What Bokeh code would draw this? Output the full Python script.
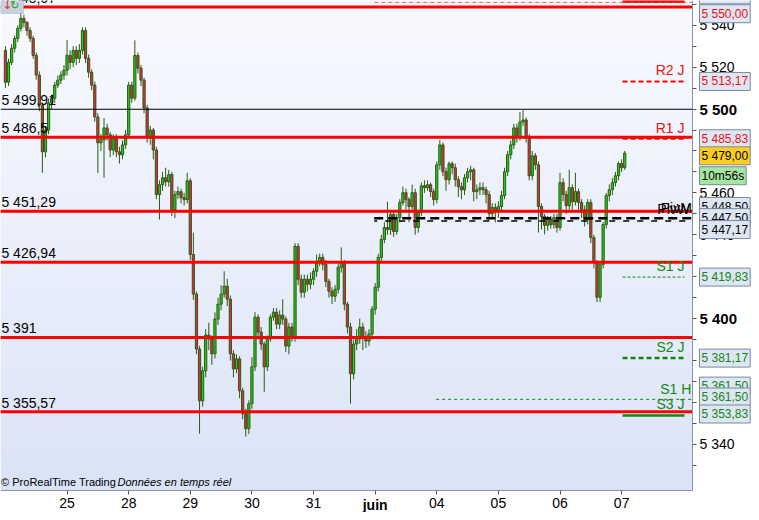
import numpy as np
from bokeh.plotting import figure
from bokeh.models import Range1d, FixedTicker, Label, BoxAnnotation, ColumnDataSource, LinearAxis
from bokeh.core.properties import value
from bokeh.embed import file_html
from bokeh.resources import INLINE

# --- hourly candles, one bar per index (open = previous close) ---
first_open = 5528.0
closes = [
    5512.8, 5522.3, 5529.0, 5533.7, 5538.5, 5543.2, 5541.3, 5537.5, 5533.7, 5525.6,
    5516.2, 5501.9, 5479.6, 5490.0, 5502.9, 5505.2, 5511.4, 5513.8, 5516.2, 5518.5,
    5525.6, 5522.3, 5528.0, 5524.2, 5528.0, 5537.5, 5524.2, 5517.6, 5511.4, 5496.2,
    5483.9, 5485.3, 5491.0, 5487.7, 5480.5, 5486.2, 5479.6, 5478.2, 5482.9, 5487.7,
    5511.4, 5505.2, 5525.6, 5519.5, 5513.8, 5500.5, 5486.2, 5490.0, 5480.5, 5459.2,
    5463.9, 5467.2, 5465.3, 5468.7, 5452.0, 5459.2, 5460.6, 5457.7, 5456.8, 5465.8,
    5430.6, 5411.7, 5385.5, 5360.8, 5375.1, 5392.2, 5390.3, 5383.2, 5399.8, 5406.9,
    5411.7, 5415.5, 5409.3, 5383.2, 5376.0, 5380.8, 5365.6, 5354.6, 5347.5, 5359.4,
    5377.0, 5400.7, 5393.6, 5387.9, 5377.0, 5390.3, 5400.7, 5403.1, 5397.4, 5401.7,
    5399.8, 5386.9, 5396.0, 5391.2, 5434.5, 5418.8, 5412.6, 5418.8, 5416.4, 5418.8,
    5422.6, 5427.3, 5429.2, 5425.9, 5417.8, 5413.1, 5410.7, 5414.0, 5424.5, 5426.4,
    5406.9, 5396.0, 5373.7, 5387.9, 5390.3, 5396.0, 5391.2, 5389.3, 5392.7, 5404.5,
    5415.0, 5429.2, 5437.8, 5443.5, 5442.5, 5449.7, 5441.6, 5448.2, 5455.4, 5460.1,
    5456.8, 5453.5, 5460.1, 5443.5, 5450.6, 5463.4, 5462.5, 5463.9, 5460.6, 5456.8,
    5473.4, 5482.9, 5470.1, 5466.3, 5473.9, 5472.0, 5466.3, 5463.0, 5461.5, 5467.2,
    5470.1, 5471.0, 5460.6, 5461.5, 5462.5, 5461.5, 5459.2, 5450.1, 5453.0, 5451.1,
    5453.5, 5458.7, 5470.1, 5478.2, 5482.9, 5491.0, 5486.7, 5493.8, 5494.8, 5486.2,
    5468.2, 5477.7, 5473.4, 5453.5, 5448.7, 5444.5, 5447.3, 5444.9, 5448.2, 5443.5,
    5464.9, 5459.2, 5453.9, 5462.5, 5455.8, 5460.6, 5455.4, 5452.0, 5447.3, 5455.4,
    5438.7, 5426.9, 5410.2, 5425.9, 5444.9, 5458.7, 5461.5, 5464.9, 5468.2, 5474.0,
    5472.0, 5479.0,
]
highs = [
    5530, 5524, 5531, 5535, 5540, 5546, 5545, 5542, 5539, 5535,
    5527, 5518, 5503, 5492, 5505, 5507, 5513, 5516, 5518, 5521,
    5533, 5528, 5530, 5530, 5531, 5539, 5539, 5526, 5519, 5513,
    5498, 5488, 5495.7, 5493, 5489, 5488, 5488, 5482, 5485, 5490,
    5513, 5513, 5532.8, 5527, 5521, 5515, 5502, 5492, 5491, 5482,
    5466, 5470, 5472, 5471, 5470, 5461, 5463, 5462, 5460, 5469.6,
    5467, 5441, 5413, 5387, 5377, 5395, 5398, 5392, 5403, 5410,
    5416, 5422.6, 5419, 5411, 5385, 5383, 5382, 5367, 5357, 5361,
    5381.6, 5403.1, 5402, 5396, 5389, 5392, 5402, 5405, 5405, 5404,
    5409.3, 5401, 5398, 5398, 5436, 5436, 5421, 5421, 5421, 5422,
    5424, 5430.6, 5431, 5431, 5428, 5419, 5415, 5416, 5426, 5434,
    5428, 5408, 5398, 5390, 5395, 5400, 5398, 5394, 5395, 5406,
    5417, 5431, 5440, 5446, 5455.8, 5452, 5451, 5450, 5457, 5463,
    5462, 5458, 5463.9, 5462, 5452, 5465, 5466, 5466, 5465, 5462,
    5475, 5485.3, 5484, 5472, 5475, 5475, 5474, 5468, 5465, 5469,
    5472, 5473, 5472, 5464, 5465, 5465, 5463, 5461, 5455, 5455,
    5456, 5461, 5472, 5480, 5485, 5493, 5493, 5498.6, 5499.5, 5496,
    5488, 5480, 5479, 5475, 5455, 5450, 5449, 5449, 5450, 5450,
    5469.6, 5467, 5461, 5471, 5464, 5469.6, 5462, 5457, 5454, 5457,
    5457, 5440, 5428, 5427, 5446, 5460, 5464, 5467, 5470, 5475,
    5476, 5480,
]
lows = [
    5510, 5511, 5521, 5527, 5532, 5537, 5539, 5535, 5532, 5524,
    5514, 5499, 5469.6, 5477, 5488, 5500, 5503, 5510, 5512, 5514,
    5516, 5519, 5520, 5521, 5522, 5526, 5522, 5515, 5509, 5494,
    5469.6, 5480, 5467.2, 5485, 5477, 5478, 5477, 5474, 5476, 5481,
    5486, 5503, 5504, 5517, 5511, 5498, 5484, 5483, 5476, 5457,
    5447.3, 5461, 5463, 5463, 5449, 5448, 5457, 5455, 5454, 5455,
    5428, 5409, 5383, 5345.1, 5358, 5372, 5385, 5378, 5381, 5397,
    5404, 5410, 5406, 5380, 5372, 5374, 5362, 5352, 5343.7, 5345,
    5357, 5375, 5390, 5385, 5365.1, 5375, 5389, 5399, 5395, 5395,
    5397, 5384, 5383, 5389, 5389, 5416, 5410, 5410, 5413, 5414,
    5416, 5420, 5425, 5423, 5415, 5410, 5407, 5408, 5412, 5422,
    5404, 5393, 5359.4, 5371, 5385, 5388, 5385, 5386, 5387, 5390,
    5402, 5413, 5427, 5436, 5440, 5440, 5439, 5440, 5446, 5454,
    5452, 5446, 5452, 5440, 5441, 5449, 5460, 5461, 5458, 5454,
    5455, 5471, 5468, 5461, 5464, 5469, 5463, 5458, 5457, 5459,
    5465, 5466, 5456, 5457, 5459, 5459, 5455, 5447, 5448, 5446,
    5448, 5451, 5457, 5468, 5476, 5481, 5484, 5485, 5492, 5484,
    5466, 5466, 5471, 5441.1, 5442.5, 5440.2, 5442, 5443, 5443, 5441,
    5442, 5456, 5450, 5452, 5452, 5454, 5452, 5448, 5444, 5445,
    5436, 5424, 5407.9, 5408, 5424, 5443, 5456, 5459, 5463, 5466,
    5470, 5471,
]

# --- axis ticks ---
day_ticks = [20, 40, 60, 80, 100, 120, 140, 160, 180, 200]
day_labels = ["25", "28", "29", "30", "31", "juin", "04", "05", "06", "07"]
price_ticks = [5340, 5360, 5380, 5400, 5420, 5440, 5460, 5480, 5500, 5520, 5540]
price_labels = ["5 340", "5 360", "5 380", "5 400", "5 420", "5 440", "5 460", "5 480", "5 500", "5 520", "5 540"]
price_minor = [5330, 5350, 5370, 5390, 5410, 5430, 5450, 5470, 5490, 5510, 5530, 5550]

# --- horizontal levels ---
red_levels = [5548.67, 5486.5, 5451.29, 5426.94, 5391.0, 5355.57]
red_texts = ["5 548,67", "5 486,5", "5 451,29", "5 426,94", "5 391", "5 355,57"]
black_level = 5499.91
black_text = "5 499,91"

pivot_names = ["R2 J", "R1 J", "S1 J", "S2 J", "S3 J"]
pivot_values = [5513.17, 5485.83, 5419.83, 5381.17, 5353.83]
pivm_value = 5447.5
s1h_value = 5361.5

# right-hand value tags: text, level, colour, background
tag_texts = ["5 551,50", "5 550,00", "5 513,17", "5 485,83", "5 479,00", "10m56s",
             "5 448,50", "5 447,50", "5 447,17", "5 419,83", "5 381,17",
             "5 361,50", "5 361,50", "5 353,83"]
tag_levels = [5554.5, 5545.5, 5513.17, 5485.83, 5477.7, 5468.2,
              5453.5, 5448.2, 5442.5, 5419.83, 5381.17,
              5367.8, 5362.6, 5354.5]
tag_colors = ["#ee1111"] * 4 + ["black"] * 5 + ["#118811"] * 5
tag_fills = ["#dfe6f3"] * 4 + ["#ffcc22", "#a6e6a0"] + ["#dfe6f3"] * 8

FONT = "Liberation Sans"
WICK = "#2d5a12"
UP = "#1fcc1f"
DOWN = "#e8254d"
W, H = 751, 512           # canvas
CW, CH = 692, 490         # chart area inside the canvas
X0, X1 = -1.6, 223.0
Y0, Y1 = 5318.0, 5551.8
px_bar = CW / (X1 - X0)
px_pt = CH / (Y1 - Y0)
XR = X1 + (W - CW) / px_bar   # frame covers the axis strips too
YB = Y0 - (H - CH) / px_pt

p = figure(width=W, height=H, x_range=Range1d(X0, XR), y_range=Range1d(YB, Y1),
           x_axis_location=None, y_axis_location=None,
           output_backend="svg", toolbar_location=None,
           min_border=0)
p.grid.visible = False
p.border_fill_color = "white"
p.background_fill_color = "white"
p.outline_line_color = None

# background gradient of the chart area
n_rows = 64
grad = np.zeros((n_rows, 1), dtype=np.uint32)
view = grad.view(dtype=np.uint8).reshape((n_rows, 1, 4))
for i in range(n_rows):
    t = i / (n_rows - 1)
    view[i, 0, 0] = int(219 + (249 - 219) * t)
    view[i, 0, 1] = int(228 + (250 - 228) * t)
    view[i, 0, 2] = int(247 + (255 - 247) * t)
    view[i, 0, 3] = 255
p.image_rgba(image=[grad], x=X0, y=Y0, dw=X1 - X0, dh=Y1 - Y0)

# candles
opens = [first_open] + closes[:-1]
o = np.array(opens)
c = np.array(closes)
src = ColumnDataSource(dict(
    x=np.arange(len(closes)), high=highs, low=lows,
    top=np.maximum(o, c), bottom=np.minimum(o, c),
    color=[UP if cc >= oo else DOWN for oo, cc in zip(opens, closes)],
))
p.segment(x0="x", y0="low", x1="x", y1="high", line_color=WICK, line_width=1, source=src)
p.vbar(x="x", width=0.72, top="top", bottom="bottom", fill_color="color",
       line_color=WICK, line_width=1, source=src)

# support / resistance lines across the chart
n_lv = len(red_levels)
p.segment(x0=[X0] * n_lv, y0=red_levels, x1=[X1] * n_lv, y1=red_levels,
          line_color="#ff0000", line_width=3)
p.segment(x0=[X0], y0=[black_level], x1=[X1], y1=[black_level], line_color="black", line_width=1)

left_src = ColumnDataSource(dict(x=[X0 + 0.3] * (n_lv + 1),
                                 y=[v + 0.6 for v in red_levels] + [black_level + 0.6],
                                 t=red_texts + [black_text]))
p.text(x="x", y="y", text="t", source=left_src, text_font=value(FONT), text_font_size="14px",
       text_color="black", text_baseline="bottom", text_align="left")

# weekly pivot (black dashed, doubled)
p.segment(x0=[119.7], y0=[pivm_value + 0.4], x1=[X1], y1=[pivm_value + 0.4],
          line_color="black", line_width=2.5, line_dash="9 5")
p.segment(x0=[119.7], y0=[pivm_value - 0.9], x1=[X1], y1=[pivm_value - 0.9],
          line_color="black", line_width=1.5, line_dash="6 8", line_dash_offset=3)

# top weekly resistance
p.segment(x0=[119.7], y0=[5550.9], x1=[X1], y1=[5550.9], line_color="#ff5555",
          line_width=1, line_dash="4 3")
p.segment(x0=[200.3], y0=[5551.4], x1=[220.4], y1=[5551.4], line_color="#ff0000", line_width=3)

# daily pivots on the right
piv_styles = [("#ff0000", 2, "5 3"), ("#ff0000", 2, "5 3"), ("#118811", 1, "3 2"),
              ("#118811", 2.5, "5 3"), ("#118811", 2.5, "solid")]
for lvl, (col, lw, dash) in zip(pivot_values, piv_styles):
    p.segment(x0=[200.3], y0=[lvl], x1=[220.4], y1=[lvl], line_color=col, line_width=lw, line_dash=dash)
p.segment(x0=[139.8], y0=[s1h_value], x1=[X1], y1=[s1h_value], line_color="#118811",
          line_width=1, line_dash="3 3")

piv_src = ColumnDataSource(dict(x=[220.4] * 5, y=[v + 1.5 for v in pivot_values], t=pivot_names,
                                col=["#ee1111", "#ee1111", "#118811", "#118811", "#118811"]))
p.text(x="x", y="y", text="t", text_color="col", source=piv_src, text_font=value(FONT),
       text_font_size="14px", text_align="right", text_baseline="bottom")
p.text(x=[X1 - 0.4], y=[s1h_value + 1.2], text=["S1 H"], text_color="#118811", text_font=value(FONT),
       text_font_size="14px", text_align="right", text_baseline="bottom")
p.text(x=[X1 - 0.8], y=[pivm_value + 1.0], text=["PivW"], text_color="black", text_font=value(FONT),
       text_font_size="14px", text_align="right", text_baseline="bottom")
p.text(x=[X1 - 0.2], y=[pivm_value + 1.4], text=["PivM"], text_color="black", text_font=value(FONT),
       text_font_size="14px", text_align="right", text_baseline="bottom")

# axes pinned to the edges of the chart area
yax = LinearAxis(fixed_location=X1, bounds=(Y0, Y1))
yax.ticker = FixedTicker(ticks=price_ticks, minor_ticks=price_minor)
yax.major_label_overrides = {t: ("" if t in (5400, 5500) else lab)
                             for t, lab in zip(price_ticks, price_labels)}
yax.major_label_text_font = FONT
yax.major_label_text_font_size = "14px"
yax.major_label_text_color = "black"
yax.axis_line_color = "#8796a6"
yax.major_tick_line_color = "#555555"
yax.minor_tick_line_color = "#555555"
yax.major_tick_out = 4
yax.major_tick_in = 0
yax.minor_tick_out = 4
yax.minor_tick_in = 0
yax.major_label_standoff = 3
p.add_layout(yax, "right")

xax = LinearAxis(fixed_location=Y0, bounds=(X0, X1))
xax.ticker = FixedTicker(ticks=day_ticks, minor_ticks=[])
xax.major_label_overrides = {t: ("" if lab == "juin" else lab) for t, lab in zip(day_ticks, day_labels)}
xax.major_label_text_font = FONT
xax.major_label_text_font_size = "14px"
xax.major_label_text_color = "black"
xax.axis_line_color = "#8796a6"
xax.major_tick_line_color = "#555555"
xax.major_tick_out = 4
xax.major_tick_in = 0
xax.major_label_standoff = 3
p.add_layout(xax, "below")

p.add_layout(Label(x=day_ticks[day_labels.index("juin")], y=Y0 - 6 / px_pt, text="juin",
                   text_font=FONT, text_font_size="14px", text_font_style="bold",
                   text_align="center", text_baseline="top", text_color="black"))
tag_x = X1 + 7 / px_bar
for t in (5400, 5500):
    p.add_layout(Label(x=tag_x, y=t, text=price_labels[price_ticks.index(t)],
                       text_font=FONT, text_font_size="15px", text_font_style="bold",
                       text_baseline="middle", text_align="left", text_color="black"))

# right-hand value tags
for txt, lvl, col, bg in zip(tag_texts, tag_levels, tag_colors, tag_fills):
    p.add_layout(Label(x=tag_x, y=lvl, text=txt, text_font=FONT,
                       text_font_size="12px", text_color=col, text_baseline="middle",
                       text_align="left", background_fill_color=bg,
                       border_line_color="#7a8a9c", padding=2))

# little toolbar icon at the top left
p.add_layout(BoxAnnotation(left=X0, right=5.9, bottom=5545.6, top=Y1, fill_color="#c6d0de",
                           fill_alpha=1, line_color="#8a98a8"))
p.add_layout(Label(x=X0 + 0.6, y=5546.2, text="↓", text_color="#e03030", text_font_size="12px",
                   text_baseline="bottom", text_font="DejaVu Sans"))
p.add_layout(Label(x=X0 + 3.2, y=5546.2, text="↻", text_color="#20a020", text_font_size="11px",
                   text_baseline="bottom", text_font="DejaVu Sans"))

# copyright line
p.add_layout(Label(x=X0 + 0.2, y=Y0 + 1.0, text="© ProRealTime Trading", text_font=FONT,
                   text_font_size="11px", text_color="black", text_baseline="bottom"))
p.add_layout(Label(x=X0 + 117 / px_bar, y=Y0 + 1.0, text="Données en temps réel", text_font=FONT,
                   text_font_size="11px", text_font_style="italic", text_color="black",
                   text_baseline="bottom"))

open("out.html", "w").write(file_html(p, INLINE))
